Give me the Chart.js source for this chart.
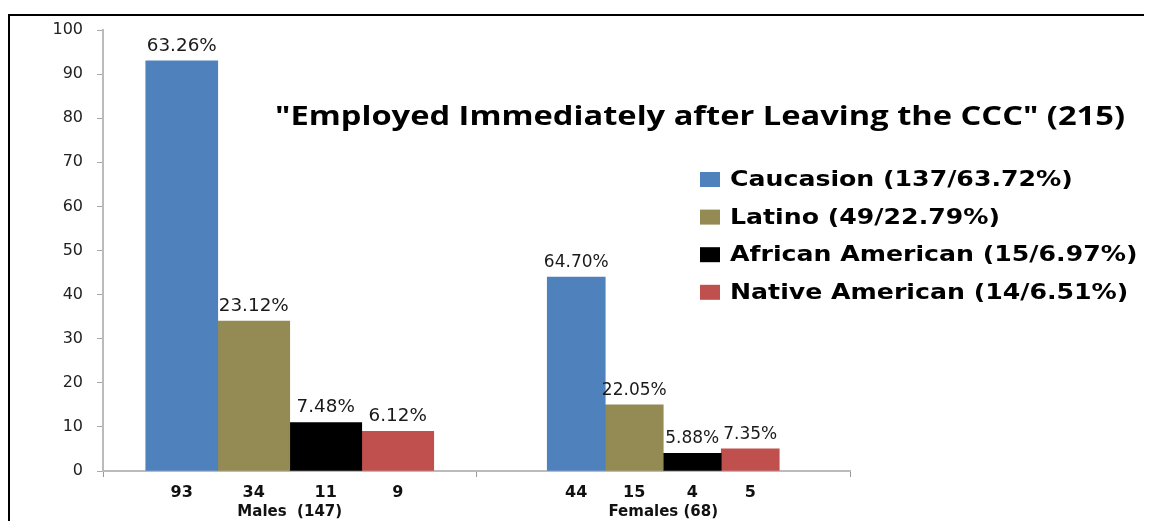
<!DOCTYPE html>
<html>
<head>
<meta charset="utf-8">
<title>Employed Immediately after Leaving the CCC</title>
<script src="https://cdn.jsdelivr.net/npm/chart.js@4/dist/chart.umd.min.js"></script>
<style>
  html, body { margin: 0; padding: 0; background: #fff; }
  canvas { display: block; }
</style>
</head>
<body>
<canvas id="chart" width="1149" height="521"></canvas>
<script>
// groups on the x axis
const groups = ['Males  (147)', 'Females (68)'];

// counts per ethnicity: [Caucasion, Latino, African American, Native American]
const males = [93, 34, 11, 9];
const females = [44, 15, 4, 5];

// share of each group, printed above the bars
const malePct = ['63.26%', '23.12%', '7.48%', '6.12%'];
const femalePct = ['64.70%', '22.05%', '5.88%', '7.35%'];

const seriesNames = ['Caucasion', 'Latino', 'African American', 'Native American'];
const legendLabels = [
  'Caucasion (137/63.72%)',
  'Latino (49/22.79%)',
  'African American (15/6.97%)',
  'Native American (14/6.51%)'
];
const yTicks = [0, 10, 20, 30, 40, 50, 60, 70, 80, 90, 100];

const colors = ['#4f81bd', '#948a54', '#000000', '#c0504d'];
const titleText = '"Employed Immediately after Leaving the CCC" (215)';

// one dataset per ethnicity and group, so each group can have its own bar width
const datasets = [];
seriesNames.forEach((name, i) => {
  datasets.push({
    label: name,
    data: [males[i], null],
    pct: [malePct[i], null],
    backgroundColor: colors[i],
    barThickness: 72
  });
});
seriesNames.forEach((name, i) => {
  datasets.push({
    label: name,
    data: [null, females[i]],
    pct: [null, femalePct[i]],
    backgroundColor: colors[i],
    barThickness: 58
  });
});

// text drawn a little wider than the font
function wideText(ctx, txt, x, y, sx) {
  ctx.save();
  ctx.translate(x, y);
  ctx.scale(sx, 1);
  ctx.fillText(txt, 0, 0);
  ctx.restore();
}

// frame, title and legend
const decorations = {
  id: 'decorations',
  beforeDraw(chart) {
    const ctx = chart.ctx;
    ctx.save();
    ctx.strokeStyle = '#000';
    ctx.lineWidth = 2;
    ctx.beginPath();
    ctx.moveTo(9, 521);
    ctx.lineTo(9, 15);
    ctx.lineTo(1144, 15);
    ctx.stroke();
    ctx.restore();
  },
  afterDraw(chart) {
    const ctx = chart.ctx;
    ctx.save();
    ctx.font = 'bold 27px "Open Sans", "Liberation Sans", sans-serif';
    ctx.fillStyle = '#000';
    ctx.textBaseline = 'alphabetic';
    const w = ctx.measureText(titleText).width;
    wideText(ctx, titleText, 275, 125, 850 / w);

    ctx.font = 'bold 21px "DejaVu Sans", Verdana, sans-serif';
    ctx.textBaseline = 'middle';
    legendLabels.forEach((txt, i) => {
      const y = 179.5 + i * 37.6;
      ctx.fillStyle = colors[i];
      ctx.fillRect(700, y - 7.5, 20, 15);
      ctx.fillStyle = '#000';
      wideText(ctx, txt, 730, y + 1, 1.2);
    });
    ctx.restore();
  }
};

// percent above each bar, count under the axis
const barLabels = {
  id: 'barLabels',
  afterDatasetsDraw(chart) {
    const ctx = chart.ctx;
    const bottom = chart.chartArea.bottom;
    ctx.save();
    ctx.textAlign = 'center';
    ctx.textBaseline = 'alphabetic';
    chart.data.datasets.forEach((ds, di) => {
      const meta = chart.getDatasetMeta(di);
      meta.data.forEach((bar, i) => {
        const v = ds.data[i];
        if (v === null) return;
        // the narrower female bars get plain-width labels
        const sx = bar.width < 72 ? 1 : 1.08;
        ctx.fillStyle = '#1a1a1a';
        ctx.font = '17px "DejaVu Sans", Verdana, sans-serif';
        wideText(ctx, ds.pct[i], bar.x, bar.y - 10, sx);
        ctx.fillStyle = '#111';
        ctx.font = 'bold 16px "DejaVu Sans", Verdana, sans-serif';
        ctx.fillText(String(v), bar.x, bottom + 26);
      });
    });
    ctx.restore();
  }
};

new Chart(document.getElementById('chart'), {
  type: 'bar',
  data: { labels: groups, datasets: datasets },
  options: {
    responsive: false,
    animation: false,
    skipNull: true,
    layout: { padding: { top: 30, left: 0, right: 299, bottom: 0 } },
    plugins: {
      legend: { display: false },
      tooltip: { enabled: false }
    },
    scales: {
      x: {
        grid: { drawOnChartArea: false, tickLength: 6, color: '#999' },
        border: { color: '#bbb', width: 2 },
        ticks: {
          padding: 26,
          color: '#111',
          font: { family: '"DejaVu Sans", Verdana, sans-serif', size: 15, weight: 'bold' }
        },
        afterFit(s) { s.height = 50; }
      },
      y: {
        min: 0,
        max: 100,
        afterBuildTicks(s) { s.ticks = yTicks.map(v => ({ value: v })); },
        grid: { drawOnChartArea: false, tickLength: 6, color: '#aaa' },
        border: { color: '#bbb', width: 2 },
        ticks: {
          padding: 14,
          color: '#222',
          font: { family: '"DejaVu Sans", Verdana, sans-serif', size: 16 }
        },
        afterFit(s) { s.width = 103; }
      }
    }
  },
  plugins: [decorations, barLabels]
});
</script>
</body>
</html>
